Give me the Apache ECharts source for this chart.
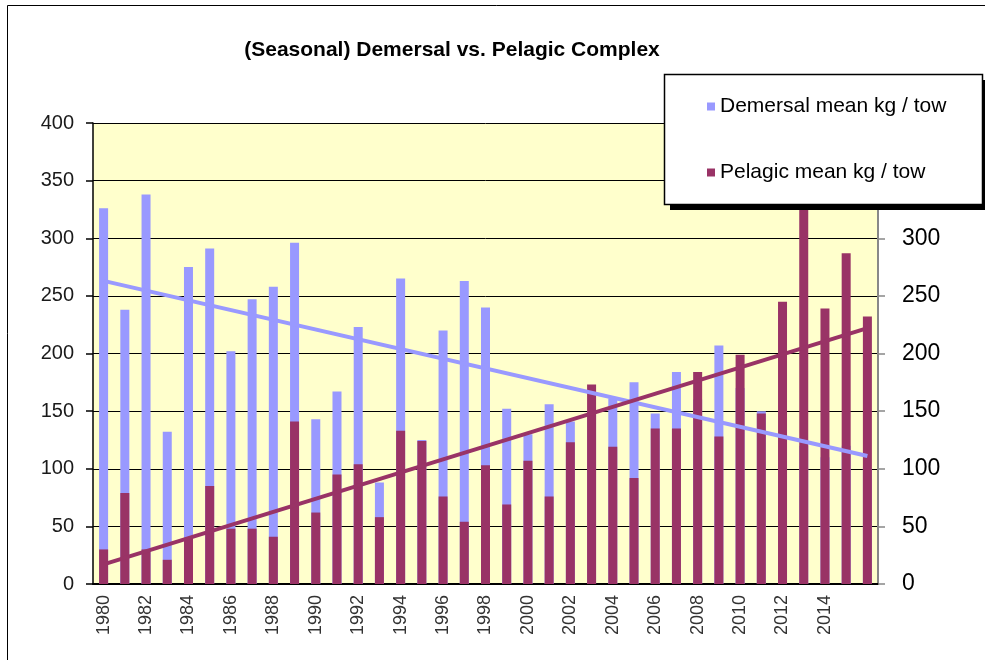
<!DOCTYPE html>
<html>
<head>
<meta charset="utf-8">
<script src="https://cdn.jsdelivr.net/npm/echarts@6/dist/echarts.min.js"></script>
<style>
html,body{margin:0;padding:0;background:#fff;}
#chart{width:985px;height:660px;}
</style>
</head>
<body>
<div id="chart"></div>
<script>
// ---- data ----
var years = ['1980','1981','1982','1983','1984','1985','1986','1987','1988','1989',
             '1990','1991','1992','1993','1994','1995','1996','1997','1998','1999',
             '2000','2001','2002','2003','2004','2005','2006','2007','2008','2009',
             '2010','2011','2012','2013','2014','2015','2016'];
var demersal = [326,238,338,132,275,291,202,247,258,296,
                143,167,223,88,265,125,220,263,240,152,
                130,156,141,150,161,175,148,184,160,207,
                170,150,130,120,110,120,100];
var pelagic  = [30,79,30,21,40,85,48,48,41,141,
                62,95,104,58,133,124,76,54,103,69,
                107,76,123,173,119,92,135,135,184,128,
                199,148,245,360,239,287,232];
var demersalTrend = [263, 111];   // trend line value at first and last year
var pelagicTrend  = [17, 222];
var yTicks = {min: 0, max: 400, interval: 50};

function trendSeriesData(ends) {
  var d = years.map(function(){ return null; });
  d[0] = ends[0];
  d[d.length - 1] = ends[1];
  return d;
}

var font = 'Liberation Sans, Arial, sans-serif';
var chart = echarts.init(document.getElementById('chart'));
var option = {
  animation: false,
  backgroundColor: '#ffffff',
  title: {
    text: '(Seasonal) Demersal vs. Pelagic Complex',
    left: 447, top: 35, textAlign: 'center',
    textStyle: {fontFamily: font, fontSize: 21, fontWeight: 'bold', color: '#000'}
  },
  legend: {
    data: ['Demersal mean kg / tow', 'Pelagic mean kg / tow'],
    orient: 'vertical',
    left: 702, top: 91,
    itemGap: 45,
    itemWidth: 8, itemHeight: 8,
    icon: 'rect',
    z: 30,
    textStyle: {fontFamily: font, fontSize: 21, color: '#000', padding: [0,0,0,0]}
  },
  grid: {
    left: 93, right: 107, top: 123, bottom: 76,
    show: true, backgroundColor: '#FFFFCC', borderWidth: 0
  },
  xAxis: {
    type: 'category',
    data: years,
    boundaryGap: true,
    axisLine: {lineStyle: {color: '#000', width: 2}},
    axisTick: {interval: 0, length: 6, lineStyle: {color: '#000', width: 1.5}},
    axisLabel: {
      rotate: 90,
      interval: function(i){ return i % 2 === 0 && i < years.length - 1; },
      fontFamily: font, fontSize: 18, color: '#333', margin: 11
    }
  },
  yAxis: [
    {
      type: 'value', min: yTicks.min, max: yTicks.max, interval: yTicks.interval,
      axisLine: {show: true, lineStyle: {color: '#000', width: 1.5}},
      axisTick: {show: true, length: 7, lineStyle: {color: '#000', width: 1.5}},
      axisLabel: {fontFamily: font, fontSize: 20, color: '#1a1a1a', margin: 19},
      splitLine: {show: true, lineStyle: {color: '#000', width: 1}}
    },
    {
      type: 'value', min: yTicks.min, max: yTicks.max, interval: yTicks.interval,
      position: 'right',
      axisLine: {show: true, lineStyle: {color: '#888', width: 2}},
      axisTick: {show: true, length: 7, lineStyle: {color: '#888', width: 1.5}},
      axisLabel: {fontFamily: font, fontSize: 23, color: '#000', margin: 24},
      splitLine: {show: false}
    }
  ],
  series: [
    {
      name: 'Demersal mean kg / tow', type: 'bar', yAxisIndex: 0,
      data: demersal, barWidth: 9, barGap: '-100%',
      itemStyle: {color: '#9999FF'}
    },
    {
      name: 'Pelagic mean kg / tow', type: 'bar', yAxisIndex: 1,
      data: pelagic, barWidth: 9, barGap: '-100%',
      itemStyle: {color: '#993366'}
    },
    {
      name: 'demTrend', type: 'line', yAxisIndex: 0, z: 4,
      data: trendSeriesData(demersalTrend), connectNulls: true,
      symbol: 'none', lineStyle: {color: '#9999FF', width: 4}
    },
    {
      name: 'pelTrend', type: 'line', yAxisIndex: 1, z: 4,
      data: trendSeriesData(pelagicTrend), connectNulls: true,
      symbol: 'none', lineStyle: {color: '#993366', width: 4}
    }
  ],
  graphic: [
    {type: 'rect', z: 1, silent: true,
     shape: {x: 7.5, y: 5.5, width: 1000, height: 700},
     style: {fill: 'none', stroke: '#000', lineWidth: 1}},
    {type: 'rect', z: 20, silent: true,
     shape: {x: 670, y: 80, width: 330, height: 130},
     style: {fill: '#000'}},
    {type: 'rect', z: 21, silent: true,
     shape: {x: 664.5, y: 74.5, width: 318, height: 130},
     style: {fill: '#fff', stroke: '#000', lineWidth: 1.5}}
  ]
};
chart.setOption(option);
</script>
</body>
</html>
